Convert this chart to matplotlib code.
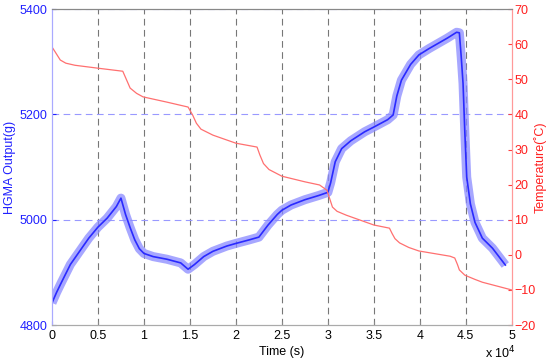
import numpy as np
import matplotlib
matplotlib.use("Agg")
import matplotlib.pyplot as plt

plt.rcParams['font.family'] = ['Liberation Sans', 'DejaVu Sans']
plt.rcParams['font.size'] = 9

# HGMA output (g) vs time (x 10^4 s)
t_hgma = [0.0, 0.05, 0.1, 0.2, 0.3, 0.4, 0.5, 0.6, 0.7, 0.75, 0.8, 0.85, 0.9, 0.95,
          1.0, 1.1, 1.25, 1.4, 1.48, 1.55, 1.65, 1.75, 1.9, 2.0, 2.15, 2.25, 2.35,
          2.45, 2.5, 2.6, 2.75, 2.9, 3.0, 3.03, 3.08, 3.15, 3.25, 3.4, 3.5, 3.65,
          3.71, 3.75, 3.8, 3.9, 3.99, 4.1, 4.2, 4.3, 4.4, 4.43, 4.45, 4.47, 4.49,
          4.51, 4.55, 4.6, 4.68, 4.79, 4.93]
hgma = [4842, 4862, 4880, 4915, 4940, 4965, 4986, 5003, 5025, 5041, 5010, 4985, 4962, 4945,
        4936, 4930, 4925, 4918, 4906, 4915, 4930, 4940, 4950, 4955, 4962, 4967, 4990,
        5010, 5018, 5028, 5038, 5046, 5052, 5070, 5110, 5135, 5150, 5167, 5176, 5190,
        5199, 5235, 5265, 5295, 5313, 5325, 5335, 5345, 5356, 5355, 5310, 5259, 5164,
        5081, 5030, 4995, 4965, 4946, 4914]

# temperature (C) vs time (x 10^4 s)
t_temp = [0.0, 0.03, 0.09, 0.15, 0.25, 0.49, 0.77, 0.8, 0.85, 0.92, 0.99, 1.25, 1.48,
          1.53, 1.57, 1.62, 1.75, 2.0, 2.23, 2.26, 2.3, 2.36, 2.5, 2.75, 2.91, 2.99,
          3.02, 3.05, 3.1, 3.2, 3.5, 3.67, 3.7, 3.73, 3.78, 3.88, 3.99, 4.33, 4.38,
          4.41, 4.43, 4.49, 4.6, 4.68, 5.0]
temp = [59.2, 58.0, 55.5, 54.6, 54.0, 53.2, 52.3, 50.5, 47.5, 46.0, 45.0, 43.5, 42.1,
        39.8, 37.5, 35.8, 34.1, 31.8, 30.7, 28.5, 26.0, 24.3, 22.4, 20.8, 19.9, 18.4,
        16.0, 13.6, 12.4, 11.3, 8.5, 7.6, 6.0, 4.6, 3.4, 2.1, 1.1, -0.4, -0.9,
        -2.8, -4.3, -5.8, -7.0, -7.8, -10.0]

fig = plt.figure(figsize=(5.5, 3.64), dpi=100)
ax = fig.add_axes([0.0945, 0.107, 0.836, 0.868])
ax2 = ax.twinx()

# vertical grid lines
for xv in np.arange(0.5, 5.0, 0.5):
    ax.axvline(xv, color='#777777', lw=0.8, ls=(0, (6, 4)), zorder=0)
# horizontal grid lines (left axis)
for yv in [5000, 5200, 5400]:
    ax.axhline(yv, color='#9999ff', lw=0.8, ls=(0, (6, 4)), zorder=0)

ax.plot(t_hgma, hgma, color='#8a8aff', lw=6.5, alpha=0.75, solid_joinstyle='round',
        solid_capstyle='butt', zorder=2)
ax.plot(t_hgma, hgma, color='#2a2aff', lw=1.2, zorder=3)
ax2.plot(t_temp, temp, color='#ff7070', lw=0.9)

ax.set_xlim(0, 5)
ax.set_ylim(4800, 5400)
ax2.set_ylim(-20, 70)
ax.set_xticks(np.arange(0, 5.01, 0.5))
ax.set_xticklabels(['0', '0.5', '1', '1.5', '2', '2.5', '3', '3.5', '4', '4.5', '5'])
ax.set_yticks([4800, 5000, 5200, 5400])
ax2.set_yticks(np.arange(-20, 71, 10))

ax.tick_params(axis='both', direction='in', length=3, colors='#888888', labelcolor='black')
ax.tick_params(axis='y', colors='#2020ff', labelcolor='#2020ff')
ax2.tick_params(axis='y', direction='in', length=3, pad=2, colors='#ff4040', labelcolor='#ff2020')

ax.set_xlabel('Time (s)', labelpad=3)
ax.set_ylabel('HGMA Output(g)', color='#2020ff', labelpad=2)
ax2.set_ylabel('Temperature(˚C)', color='#ff2020')
ax2.yaxis.set_label_coords(1.048, 0.5)

for a in (ax, ax2):
    a.spines['left'].set_color('#aaaaff')
    a.spines['right'].set_color('#ff9999')
    a.spines['top'].set_color('#888888')
    a.spines['bottom'].set_color('#aaaaaa')

fig.text(0.882, 0.017, r'x 10$^4$', fontsize=9)

fig.savefig('out.png', dpi=100)
